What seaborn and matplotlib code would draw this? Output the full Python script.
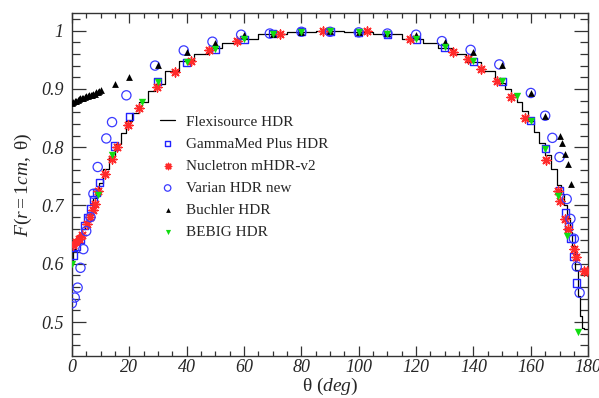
import numpy as np
import pandas as pd
import matplotlib
matplotlib.use('Agg')
import matplotlib.pyplot as plt
import seaborn as sns

# polar anisotropy F(r=1cm, theta) for several HDR sources

flex_deg = [0, 1, 2, 3, 4, 5, 6, 7, 8, 9, 10, 12, 14, 16, 18, 20, 22, 25, 28, 30,
            35, 40, 45, 50, 55, 60, 70, 80, 90, 100, 110, 120, 125, 130, 135, 140,
            145, 150, 152, 154, 156, 158, 160, 162, 164, 166, 168, 170, 171, 172,
            173, 174, 175, 176, 177, 177.5, 178, 179, 180]
flex_f = [0.605, 0.625, 0.638, 0.648, 0.660, 0.670, 0.683, 0.697, 0.712, 0.725, 0.738,
          0.762, 0.785, 0.805, 0.825, 0.845, 0.858, 0.878, 0.897, 0.908,
          0.930, 0.948, 0.960, 0.970, 0.979, 0.985, 0.994, 0.998, 1.000, 0.998,
          0.994, 0.986, 0.979, 0.970, 0.960, 0.947, 0.930, 0.910, 0.900, 0.890,
          0.878, 0.862, 0.845, 0.826, 0.808, 0.787, 0.762, 0.735, 0.720, 0.700,
          0.678, 0.655, 0.630, 0.590, 0.545, 0.510, 0.490, 0.488, 0.488]

gamma_deg = [0.5, 1.5, 3, 4.5, 5.5, 6.5, 7.5, 8.5, 9.5, 15, 20, 30, 40, 50, 60, 70, 80,
             90, 100, 110, 120, 130, 140, 150, 160, 165, 170, 172, 173, 174, 175, 176]
gamma_f = [0.615, 0.630, 0.642, 0.666, 0.680, 0.694, 0.710, 0.723, 0.739, 0.802, 0.852,
           0.913, 0.946, 0.968, 0.984, 0.995, 0.998, 0.999, 0.997, 0.993, 0.984, 0.971,
           0.947, 0.913, 0.845, 0.797, 0.725, 0.687, 0.664, 0.644, 0.612, 0.567]

nucl_deg = [0.5, 1.5, 2.5, 3.5, 5.1, 6.3, 7.4, 8.2, 9.2, 11.5, 13.9, 15.7, 19.5, 23.5,
            29.6, 35.9, 41.7, 47.7, 57.5, 72.7, 87.6, 102.9, 117.8, 133, 138, 142.7,
            148.3, 153, 157.8, 165.4, 169.3, 170.3, 171.8, 172.9, 174.9, 175.8, 178.7,
            179.6]
nucl_f = [0.632, 0.637, 0.642, 0.650, 0.668, 0.680, 0.692, 0.703, 0.725, 0.754, 0.779,
          0.800, 0.838, 0.868, 0.903, 0.929, 0.948, 0.966, 0.982, 0.995, 1.000, 1.000,
          0.985, 0.964, 0.951, 0.934, 0.914, 0.886, 0.850, 0.778, 0.724, 0.707, 0.676,
          0.659, 0.626, 0.611, 0.587, 0.587]

varian_deg = [0, 1, 2, 3, 4, 5, 6.5, 7.5, 9, 12, 14, 19, 29, 39, 49, 59, 69, 80, 90,
              100, 110, 120, 129, 139, 149, 160, 165, 167.5, 170, 172.5, 173.8, 175,
              176, 177]
varian_f = [0.532, 0.542, 0.559, 0.593, 0.625, 0.656, 0.680, 0.720, 0.766, 0.815, 0.843,
            0.889, 0.940, 0.966, 0.981, 0.993, 0.995, 0.998, 0.998, 0.997, 0.995, 0.993,
            0.982, 0.967, 0.942, 0.893, 0.854, 0.816, 0.783, 0.711, 0.677, 0.643, 0.595,
            0.550]

buch_deg = [0, 0.5, 1, 1.5, 2, 2.5, 3, 3.5, 4, 4.5, 5, 5.5, 6, 6.5, 7, 7.5, 8, 8.5, 9,
            9.5, 10, 15, 20, 30, 40, 50, 60, 70, 80, 90, 100, 110, 120, 130, 140, 150,
            160, 165, 170, 171, 172, 173, 174]
buch_f = [0.875, 0.878, 0.879, 0.880, 0.881, 0.882, 0.884, 0.885, 0.885, 0.886, 0.887,
          0.888, 0.889, 0.890, 0.890, 0.891, 0.892, 0.894, 0.895, 0.897, 0.898, 0.909,
          0.920, 0.941, 0.963, 0.979, 0.993, 0.995, 0.998, 0.999, 0.997, 0.996, 0.993,
          0.980, 0.963, 0.941, 0.893, 0.854, 0.819, 0.807, 0.789, 0.771, 0.737]

bebig_deg = [0, 9, 14, 24.5, 30, 40, 50, 60, 70, 80, 90, 100, 110, 120, 130, 140, 150,
             155, 160, 165, 169.5, 172.7, 176.5]
bebig_f = [0.600, 0.718, 0.787, 0.878, 0.911, 0.947, 0.968, 0.985, 0.995, 0.998, 0.999,
           0.997, 0.994, 0.985, 0.972, 0.948, 0.913, 0.887, 0.845, 0.797, 0.717, 0.648,
           0.483]

x_ticks = [0, 20, 40, 60, 80, 100, 120, 140, 160, 180]
y_ticks = [0.5, 0.6, 0.7, 0.8, 0.9, 1.0]
y_labels = ['0.5', '0.6', '0.7', '0.8', '0.9', '1']

sns.set_style('ticks')
plt.rcParams['font.family'] = ['Liberation Serif', 'DejaVu Serif']
plt.rcParams['mathtext.fontset'] = 'custom'
plt.rcParams['mathtext.rm'] = 'Liberation Serif'
plt.rcParams['mathtext.it'] = 'Liberation Serif:italic'

fig = plt.figure(figsize=(5.99, 3.98), dpi=100)
ax = fig.add_axes([0.120, 0.106, 0.862, 0.861])

sns.lineplot(x=flex_deg, y=flex_f, ax=ax, color='black', lw=0.9, drawstyle='steps-mid',
             estimator=None, sort=False, label='Flexisource HDR')
sns.scatterplot(x=gamma_deg, y=gamma_f, ax=ax, marker='s', s=26, facecolor='none',
                edgecolor='#2222ff', linewidth=1.0, label='GammaMed Plus HDR', zorder=3)
sns.scatterplot(x=nucl_deg, y=nucl_f, ax=ax, marker=(8, 2, 0), s=40, color='#ff2a2a',
                linewidth=1.1, label='Nucletron mHDR-v2', zorder=3)
sns.scatterplot(x=varian_deg, y=varian_f, ax=ax, marker='o', s=44, facecolor='none',
                edgecolor='#3a3aff', linewidth=0.9, label='Varian HDR new', zorder=3)
sns.scatterplot(x=buch_deg, y=buch_f, ax=ax, marker='^', s=24, color='black',
                linewidth=0, label='Buchler HDR', zorder=4)
sns.scatterplot(x=bebig_deg, y=bebig_f, ax=ax, marker='v', s=28, color='#11dd11',
                linewidth=0, label='BEBIG HDR', zorder=4)

ax.set_xlim(0, 180)
ax.set_ylim(0.442, 1.03)
ax.set_xticks(x_ticks)
ax.set_xticklabels([str(t) for t in x_ticks], fontstyle='italic', fontsize=13)
ax.set_yticks(y_ticks)
ax.set_yticklabels(y_labels, fontstyle='italic', fontsize=13)
ax.set_xticks(np.arange(0, 181, 5), minor=True)
ax.set_yticks(np.arange(0.46, 1.03, 0.02), minor=True)
ax.tick_params(axis='both', which='both', direction='in', top=True, right=True,
               color='#333333', width=0.9)
ax.tick_params(axis='x', which='major', length=7, pad=2)
ax.tick_params(axis='x', which='minor', length=3.5)
ax.tick_params(axis='y', which='major', length=10, pad=6)
ax.tick_params(axis='y', which='minor', length=6)
for sp in ax.spines.values():
    sp.set_color('#333333')
    sp.set_linewidth(1.0)

ax.set_xlabel(r'$\mathrm{\theta}\ \mathit{(deg)}$', fontsize=14, labelpad=0)
ax.set_ylabel(r'$\mathit{F(r{=}1cm,}\ \mathrm{\theta}\mathit{)}$', fontsize=14, labelpad=5)

ax.legend(loc='upper left', bbox_to_anchor=(160 / 599, 1 - 115 / 398),
          bbox_transform=fig.transFigure, frameon=False, fontsize=11,
          handlelength=1.0, handletextpad=0.7, labelspacing=0.55, borderpad=0,
          borderaxespad=0, markerscale=0.7)

fig.savefig('out.png', dpi=100)
